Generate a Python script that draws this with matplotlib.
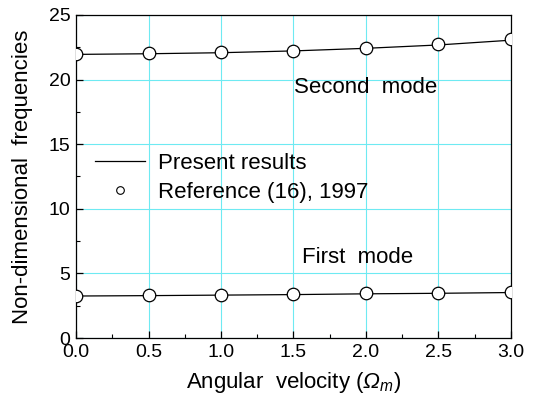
import numpy as np
import matplotlib
matplotlib.use("Agg")
import matplotlib.pyplot as plt
from matplotlib.lines import Line2D
from matplotlib.ticker import MultipleLocator

plt.rcParams['font.family'] = ['Liberation Sans', 'DejaVu Sans']
# only the x label uses mathtext; Greek capitals come from the "rm" slot,
# so point it at the italic face to get a slanted Omega
plt.rcParams['mathtext.fontset'] = 'custom'
plt.rcParams['mathtext.rm'] = 'Liberation Sans:italic'
plt.rcParams['mathtext.it'] = 'Liberation Sans:italic'

# angular velocity and the two lowest non-dimensional frequencies
omega = [0.0, 0.5, 1.0, 1.5, 2.0, 2.5, 3.0]
second_present = [21.95, 22.0, 22.08, 22.22, 22.42, 22.68, 23.05]
second_ref = [21.98, 22.03, 22.1, 22.24, 22.47, 22.73, 23.12]
first_present = [3.25, 3.28, 3.32, 3.36, 3.42, 3.46, 3.52]
first_ref = [3.27, 3.30, 3.35, 3.38, 3.46, 3.48, 3.54]

fig = plt.figure(figsize=(5.41, 4.05), dpi=100)
ax = fig.add_axes([0.1405, 0.1654, 0.804, 0.7976])

ax.grid(True, which='major', color='#6eeaf2', lw=0.8)
ax.set_axisbelow(True)

for pres, ref in [(second_present, second_ref), (first_present, first_ref)]:
    ax.plot(omega, pres, color='black', lw=0.9, zorder=3)
    ax.plot(omega, ref, ls='none', marker='o', ms=9, mfc='white',
            mec='black', mew=0.9, zorder=4)

ax.set_xlim(0, 3.0)
ax.set_ylim(0, 25)
ax.xaxis.set_major_locator(MultipleLocator(0.5))
ax.xaxis.set_minor_locator(MultipleLocator(0.25))
ax.yaxis.set_major_locator(MultipleLocator(5))
ax.yaxis.set_minor_locator(MultipleLocator(2.5))
ax.tick_params(which='both', direction='in', labelsize=14, color='black')
ax.tick_params(which='major', length=5, width=0.9)
ax.tick_params(which='minor', length=3, width=0.8)
ax.tick_params(axis='x', pad=4)
ax.tick_params(axis='y', pad=4)
for sp in ax.spines.values():
    sp.set_linewidth(0.9)

ax.set_xlabel(r'Angular  velocity ($Ω_m$)', fontsize=16, labelpad=7)
ax.set_ylabel('Non-dimensional  frequencies', fontsize=16, labelpad=11)

ax.text(2.0, 19.35, 'Second  mode', fontsize=16, ha='center', va='center')
ax.text(1.945, 6.2, 'First  mode', fontsize=16, ha='center', va='center')

handles = [Line2D([], [], color='black', lw=0.9),
           Line2D([], [], ls='none', marker='o', ms=5.5, mfc='white',
                  mec='black', mew=0.8)]
ax.legend(handles, ['Present results', 'Reference (16), 1997'],
          loc='center left', bbox_to_anchor=(0.044, 0.495), frameon=False,
          fontsize=16, handlelength=2.25, handletextpad=0.6,
          labelspacing=0.35, borderaxespad=0, borderpad=0)

fig.savefig('out.png', dpi=100)
